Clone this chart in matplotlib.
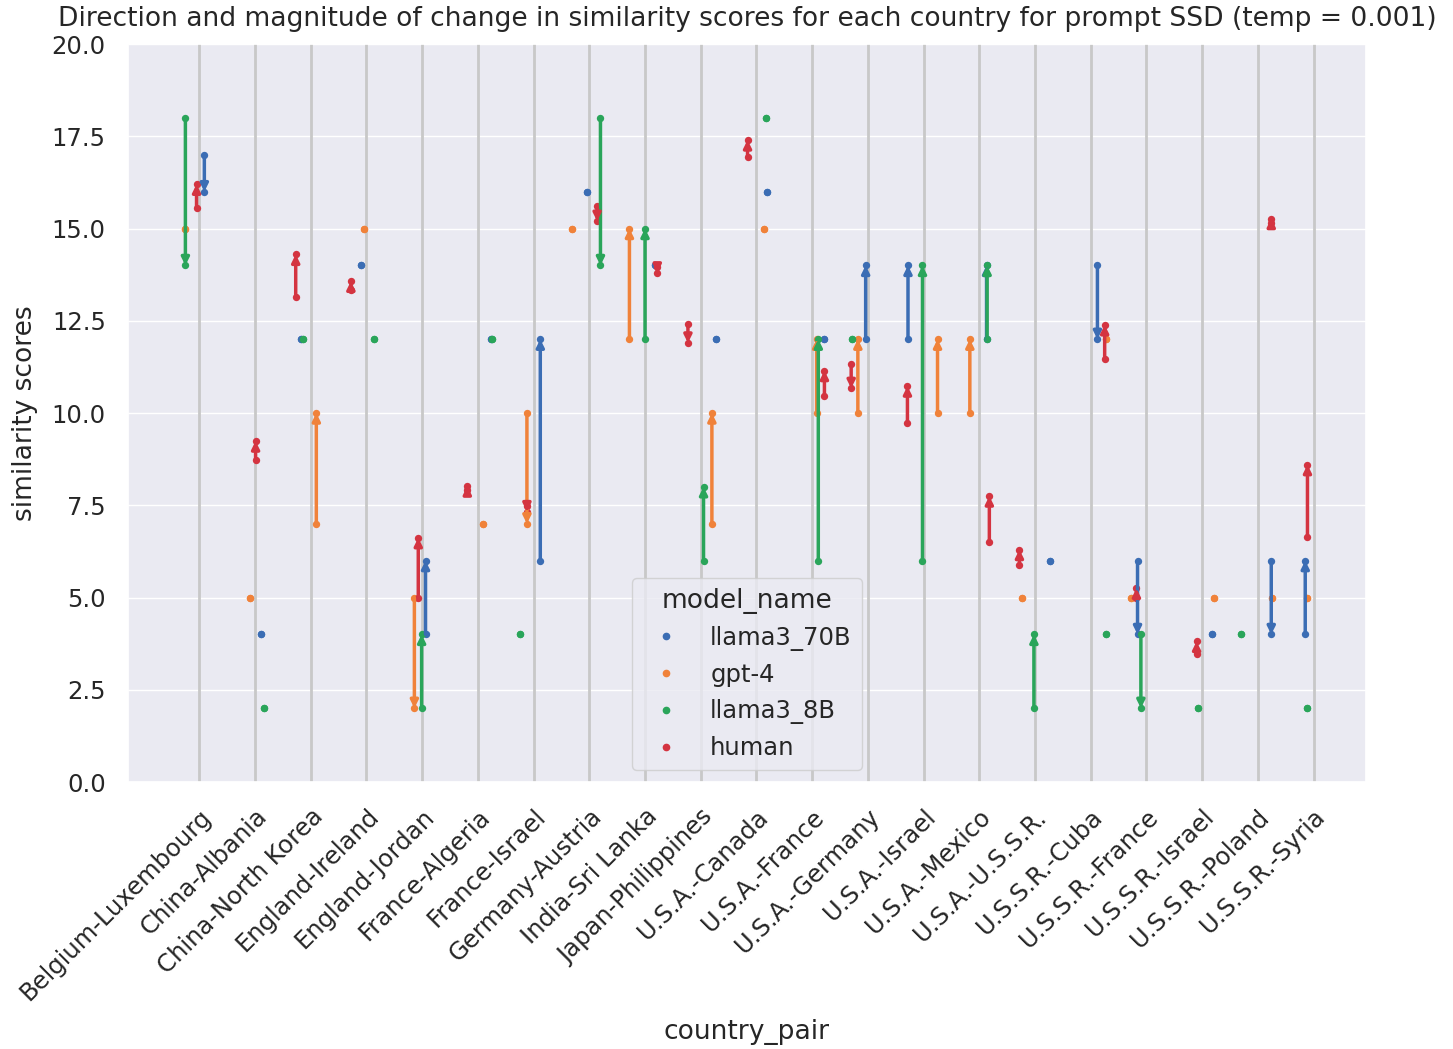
import numpy as np
import matplotlib.pyplot as plt
import seaborn as sns
from matplotlib.lines import Line2D

sns.set_theme(style="darkgrid", font_scale=1.59)

country_pairs = ["Belgium-Luxembourg", "China-Albania", "China-North Korea", "England-Ireland",
                 "England-Jordan", "France-Algeria", "France-Israel", "Germany-Austria",
                 "India-Sri Lanka", "Japan-Philippines", "U.S.A.-Canada", "U.S.A.-France",
                 "U.S.A.-Germany", "U.S.A.-Israel", "U.S.A.-Mexico", "U.S.A.-U.S.S.R.",
                 "U.S.S.R.-Cuba", "U.S.S.R.-France", "U.S.S.R.-Israel", "U.S.S.R.-Poland",
                 "U.S.S.R.-Syria"]
models = ["llama3_70B", "gpt-4", "llama3_8B", "human"]

# similarity score before -> after (arrow goes from first to second)
llama70_first = [17, 4, 12, 14, 4, 12, 6, 16, 14, 12, 16, 12, 12, 12, 12, 6, 14, 6, 4, 6, 4]
llama70_second = [16, 4, 12, 14, 6, 12, 12, 16, 14, 12, 16, 12, 14, 14, 14, 6, 12, 4, 4, 4, 6]
gpt4_first = [15, 5, 7, 15, 5, 7, 10, 15, 12, 7, 15, 10, 10, 10, 10, 5, 12, 5, 5, 5, 5]
gpt4_second = [15, 5, 10, 15, 2, 7, 7, 15, 15, 10, 15, 12, 12, 12, 12, 5, 12, 5, 5, 5, 5]
llama8_first = [18, 2, 12, 12, 2, 12, 4, 18, 12, 6, 18, 6, 12, 6, 12, 2, 4, 4, 2, 4, 2]
llama8_second = [14, 2, 12, 12, 4, 12, 4, 14, 15, 8, 18, 12, 12, 14, 14, 4, 4, 2, 2, 4, 2]
human_first = [15.55, 8.74, 13.15, 13.33, 5.0, 7.92, 7.49, 15.6, 13.95, 12.4, 16.95,
               10.45, 11.33, 9.74, 6.51, 5.89, 11.47, 5.0, 3.47, 15.15, 6.65]
human_second = [16.2, 9.24, 14.3, 13.57, 6.62, 8.02, 7.33, 15.2, 13.8, 11.9, 17.4,
                11.15, 10.67, 10.73, 7.75, 6.3, 12.39, 5.25, 3.81, 15.27, 8.6]

# strip jitter of each model inside its category
llama70_jit = [0.09, 0.11, -0.18, -0.09, 0.06, 0.24, 0.12, -0.04, 0.17, 0.27, 0.19,
               0.22, -0.04, -0.28, 0.13, 0.26, 0.12, -0.16, 0.18, 0.24, -0.15]
gpt4_jit = [-0.26, -0.09, 0.10, -0.05, -0.14, 0.10, -0.12, -0.31, -0.28, 0.20, 0.14,
            0.08, -0.18, 0.25, -0.17, -0.23, 0.27, -0.28, 0.22, 0.26, -0.11]
llama8_jit = [-0.25, 0.16, -0.14, 0.14, -0.01, 0.26, -0.25, 0.20, 0.0, 0.05, 0.18,
              0.11, -0.29, -0.02, 0.14, -0.02, 0.28, -0.10, -0.08, -0.31, -0.11]
human_jit = [-0.05, 0.01, -0.27, -0.28, -0.07, -0.19, -0.12, 0.14, 0.22, -0.23, -0.16,
             0.22, -0.30, -0.29, 0.18, -0.28, 0.25, -0.18, -0.10, 0.24, -0.11]

colors = ["#3b6db4", "#f0823a", "#2aa55a", "#d43441"]

series = [
    (llama70_first, llama70_second, llama70_jit),
    (gpt4_first, gpt4_second, gpt4_jit),
    (llama8_first, llama8_second, llama8_jit),
    (human_first, human_second, human_jit),
]

fig, ax = plt.subplots(figsize=(14.53, 10.49), dpi=100)
fig.subplots_adjust(left=0.0881, right=0.9401, bottom=0.2545, top=0.958)

ax.grid(axis="x", visible=False)
for i in range(len(country_pairs)):
    ax.axvline(i, color="#c8c8c8", lw=2, zorder=0.8)

for (first, second, jit), c in zip(series, colors):
    x = np.arange(len(country_pairs)) + np.array(jit)
    ax.scatter(x, first, s=28, color=c, linewidth=0, zorder=3)
    ax.scatter(x, second, s=28, color=c, linewidth=0, zorder=3)
    for xi, a, b in zip(x, first, second):
        if a != b:
            ax.annotate("", xy=(xi, b), xytext=(xi, a),
                        arrowprops=dict(arrowstyle="-|>", color=c, lw=2.5,
                                        mutation_scale=11, shrinkA=0, shrinkB=0),
                        zorder=4)

ax.set_xticks(range(len(country_pairs)))
ax.set_xticklabels(country_pairs, rotation=45, ha="right", va="top", rotation_mode="anchor")
ax.tick_params(axis="both", pad=10)
ax.set_xlim(-1.28, 20.94)
ax.set_ylim(0, 20)
ax.set_yticks(np.arange(0, 20.1, 2.5))
ax.set_xlabel("country_pair", labelpad=10)
ax.set_ylabel("similarity scores", labelpad=10)
ax.set_title("Direction and magnitude of change in similarity scores for each country for prompt SSD (temp = 0.001)",
             pad=13)

handles = [Line2D([], [], marker="o", linestyle="", color=c, markersize=4.5) for c in colors]
ax.legend(handles, models, title="model_name", loc="lower center")

fig.savefig("out.png", dpi=100)
